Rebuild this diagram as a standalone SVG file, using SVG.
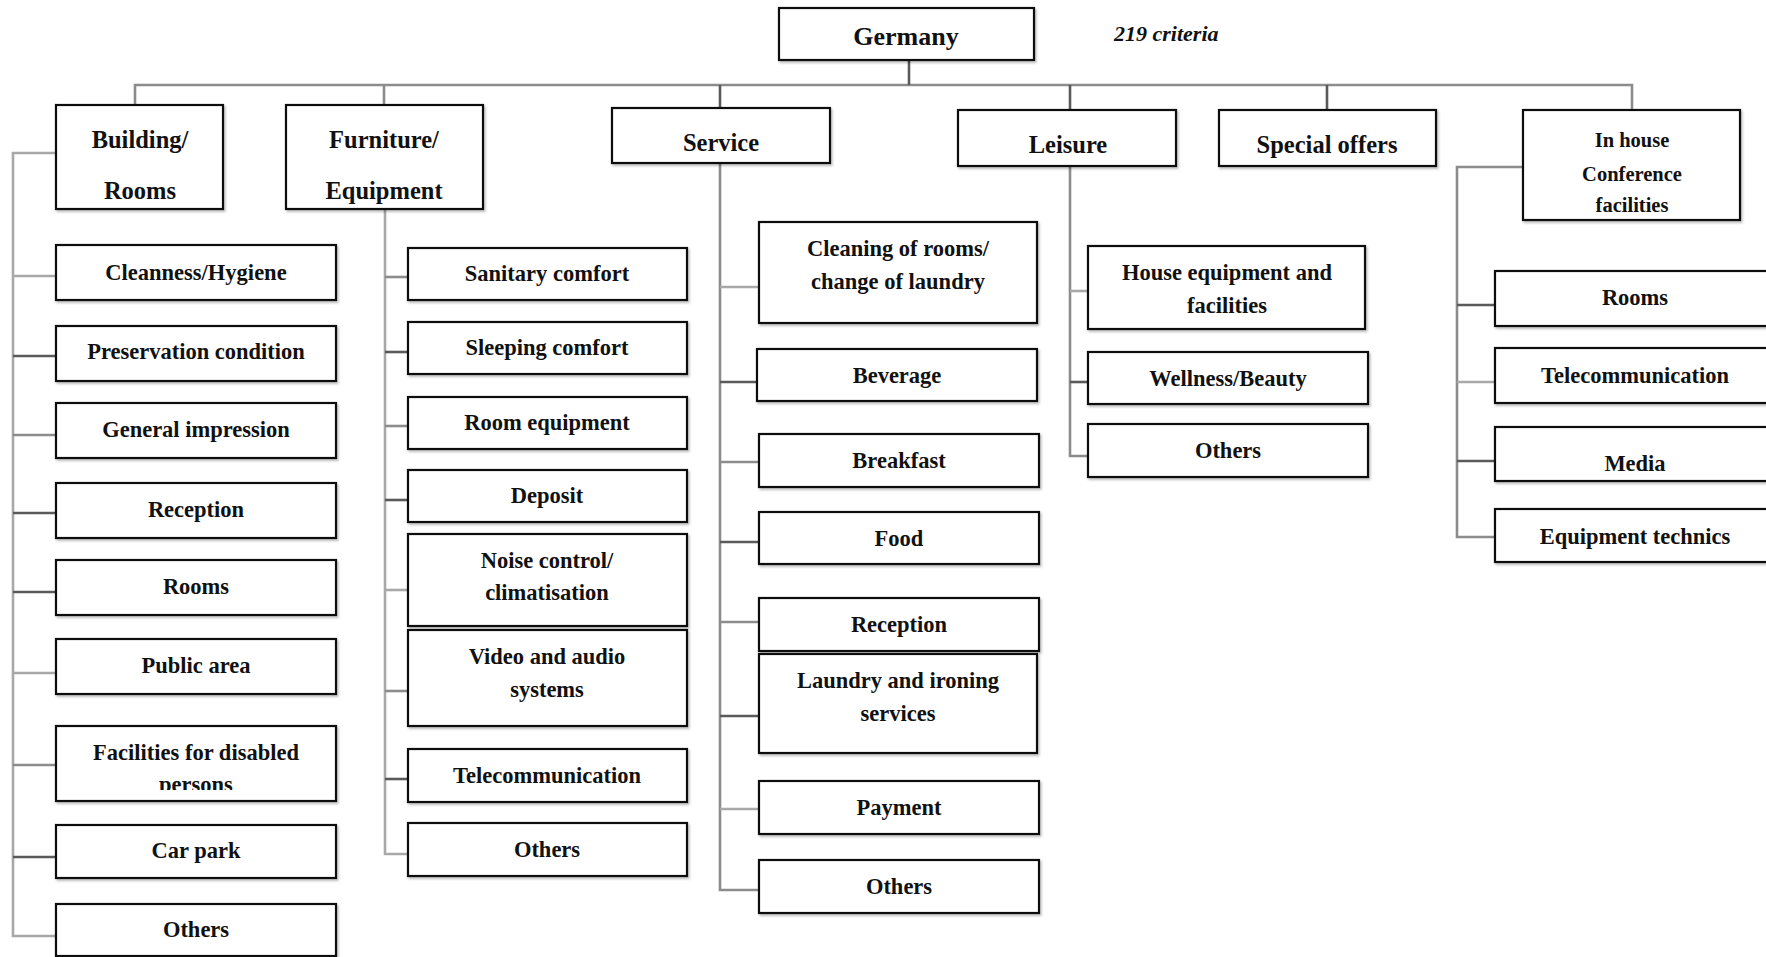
<svg xmlns="http://www.w3.org/2000/svg" width="1766" height="957" viewBox="0 0 1766 957">
  <style>
    .box { fill: #ffffff; stroke: #111111; stroke-width: 2.2; filter: url(#soft); }
    .t { font-family: "Liberation Serif", "Times New Roman", serif; font-weight: bold; fill: #111111; text-anchor: middle; }
    .l1 { font-size: 24.5px; }
    .l2 { font-size: 22.5px; }
    .sm { font-size: 20.5px; }
    .top { font-size: 26px; }
    .note { font-family: "Liberation Serif", "Times New Roman", serif; font-weight: bold; font-style: italic; font-size: 22px; fill: #111111; }
    .ln { fill: none; stroke: #8c8c8c; stroke-width: 2.6; }
    .dk { fill: none; stroke: #5a5a5a; stroke-width: 2.6; }
    .lt { fill: none; stroke: #a8a8a8; stroke-width: 2.6; }
  </style>
  <defs>
    <filter id="soft" x="-5%" y="-10%" width="115%" height="130%">
      <feDropShadow dx="1.5" dy="2" stdDeviation="1" flood-color="#000000" flood-opacity="0.25"/>
    </filter>
    <clipPath id="clipDisabled">
      <rect x="58" y="728" width="276" height="62"/>
    </clipPath>
  </defs>
  <rect width="1766" height="957" fill="#ffffff"/>

  <!-- connectors -->
  <g id="connectors">
    <!-- top bus and stubs -->
    <path class="ln" d="M135,105 V85 H1632 V110"/>
    <path class="dk" d="M909,60 V85"/>
    <path class="ln" d="M384,85 V105"/>
    <path class="dk" d="M720,85 V108"/>
    <path class="dk" d="M1070,85 V110"/>
    <path class="dk" d="M1327,85 V110"/>

    <!-- Building / Rooms branch -->
    <path class="lt" d="M56,153 H13 V936 H56"/>
    <path class="lt" d="M13,276 H56"/>
    <path class="dk" d="M13,356 H56"/>
    <path class="ln" d="M13,435 H56"/>
    <path class="dk" d="M13,513 H56"/>
    <path class="dk" d="M13,592 H56"/>
    <path class="lt" d="M13,673 H56"/>
    <path class="ln" d="M13,765 H56"/>
    <path class="dk" d="M13,857 H56"/>

    <!-- Furniture / Equipment branch -->
    <path class="lt" d="M385,209 V854 H408"/>
    <path class="ln" d="M385,277 H408"/>
    <path class="dk" d="M385,352 H408"/>
    <path class="ln" d="M385,426 H408"/>
    <path class="dk" d="M385,500 H408"/>
    <path class="lt" d="M385,590 H408"/>
    <path class="ln" d="M385,691 H408"/>
    <path class="dk" d="M385,779 H408"/>

    <!-- Service branch -->
    <path class="ln" d="M720,163 V890 H759"/>
    <path class="lt" d="M720,287 H759"/>
    <path class="dk" d="M720,382 H759"/>
    <path class="ln" d="M720,462 H759"/>
    <path class="dk" d="M720,542 H759"/>
    <path class="ln" d="M720,622 H759"/>
    <path class="dk" d="M720,716 H759"/>
    <path class="lt" d="M720,809 H759"/>

    <!-- Leisure branch -->
    <path class="ln" d="M1070,166 V456 H1088"/>
    <path class="lt" d="M1070,291 H1088"/>
    <path class="dk" d="M1070,382 H1088"/>

    <!-- In house conference branch -->
    <path class="ln" d="M1523,167 H1457 V537 H1495"/>
    <path class="dk" d="M1457,305 H1495"/>
    <path class="lt" d="M1457,382 H1495"/>
    <path class="dk" d="M1457,461 H1495"/>
  </g>

  <!-- root -->
  <g id="germany">
    <rect class="box" x="779" y="8" width="255" height="52"/>
    <text class="t top" x="906" y="45">Germany</text>
  </g>
  <text id="criteria" class="note" x="1114" y="41">219 criteria</text>

  <!-- first level -->
  <g id="building-rooms">
    <rect class="box" x="56" y="105" width="167" height="104"/>
    <text class="t l1" x="140" y="148">Building/</text>
    <text class="t l1" x="140" y="199">Rooms</text>
  </g>
  <g id="furniture-equipment">
    <rect class="box" x="286" y="105" width="197" height="104"/>
    <text class="t l1" x="384" y="148">Furniture/</text>
    <text class="t l1" x="384" y="199">Equipment</text>
  </g>
  <g id="service">
    <rect class="box" x="612" y="108" width="218" height="55"/>
    <text class="t l1" x="721" y="151">Service</text>
  </g>
  <g id="leisure">
    <rect class="box" x="958" y="110" width="218" height="56"/>
    <text class="t l1" x="1068" y="153">Leisure</text>
  </g>
  <g id="special-offers">
    <rect class="box" x="1219" y="110" width="217" height="56"/>
    <text class="t l1" x="1327" y="153">Special offers</text>
  </g>
  <g id="in-house-conference">
    <rect class="box" x="1523" y="110" width="217" height="110"/>
    <text class="t sm" x="1632" y="147">In house</text>
    <text class="t sm" x="1632" y="181">Conference</text>
    <text class="t sm" x="1632" y="212">facilities</text>
  </g>

  <!-- Building / Rooms criteria -->
  <g id="b-cleanness">
    <rect class="box" x="56" y="245" width="280" height="55"/>
    <text class="t l2" x="196" y="280">Cleanness/Hygiene</text>
  </g>
  <g id="b-preservation">
    <rect class="box" x="56" y="326" width="280" height="55"/>
    <text class="t l2" x="196" y="359">Preservation condition</text>
  </g>
  <g id="b-general">
    <rect class="box" x="56" y="403" width="280" height="55"/>
    <text class="t l2" x="196" y="437">General impression</text>
  </g>
  <g id="b-reception">
    <rect class="box" x="56" y="483" width="280" height="55"/>
    <text class="t l2" x="196" y="517">Reception</text>
  </g>
  <g id="b-rooms">
    <rect class="box" x="56" y="560" width="280" height="55"/>
    <text class="t l2" x="196" y="594">Rooms</text>
  </g>
  <g id="b-public">
    <rect class="box" x="56" y="639" width="280" height="55"/>
    <text class="t l2" x="196" y="673">Public area</text>
  </g>
  <g id="b-disabled">
    <rect class="box" x="56" y="726" width="280" height="75"/>
    <g clip-path="url(#clipDisabled)">
      <text class="t l2" x="196" y="760">Facilities for disabled</text>
      <text class="t l2" x="196" y="792">persons</text>
    </g>
  </g>
  <g id="b-carpark">
    <rect class="box" x="56" y="825" width="280" height="53"/>
    <text class="t l2" x="196" y="858">Car park</text>
  </g>
  <g id="b-others">
    <rect class="box" x="56" y="904" width="280" height="52"/>
    <text class="t l2" x="196" y="937">Others</text>
  </g>

  <!-- Furniture / Equipment criteria -->
  <g id="f-sanitary">
    <rect class="box" x="408" y="248" width="279" height="52"/>
    <text class="t l2" x="547" y="281">Sanitary comfort</text>
  </g>
  <g id="f-sleeping">
    <rect class="box" x="408" y="322" width="279" height="52"/>
    <text class="t l2" x="547" y="355">Sleeping comfort</text>
  </g>
  <g id="f-room-equipment">
    <rect class="box" x="408" y="397" width="279" height="52"/>
    <text class="t l2" x="547" y="430">Room equipment</text>
  </g>
  <g id="f-deposit">
    <rect class="box" x="408" y="470" width="279" height="52"/>
    <text class="t l2" x="547" y="503">Deposit</text>
  </g>
  <g id="f-noise">
    <rect class="box" x="408" y="534" width="279" height="92"/>
    <text class="t l2" x="547" y="568">Noise control/</text>
    <text class="t l2" x="547" y="600">climatisation</text>
  </g>
  <g id="f-video">
    <rect class="box" x="408" y="630" width="279" height="96"/>
    <text class="t l2" x="547" y="664">Video and audio</text>
    <text class="t l2" x="547" y="697">systems</text>
  </g>
  <g id="f-telecom">
    <rect class="box" x="408" y="749" width="279" height="53"/>
    <text class="t l2" x="547" y="783">Telecommunication</text>
  </g>
  <g id="f-others">
    <rect class="box" x="408" y="823" width="279" height="53"/>
    <text class="t l2" x="547" y="857">Others</text>
  </g>

  <!-- Service criteria -->
  <g id="s-cleaning">
    <rect class="box" x="759" y="222" width="278" height="101"/>
    <text class="t l2" x="898" y="256">Cleaning of rooms/</text>
    <text class="t l2" x="898" y="289">change of laundry</text>
  </g>
  <g id="s-beverage">
    <rect class="box" x="757" y="349" width="280" height="52"/>
    <text class="t l2" x="897" y="383">Beverage</text>
  </g>
  <g id="s-breakfast">
    <rect class="box" x="759" y="434" width="280" height="53"/>
    <text class="t l2" x="899" y="468">Breakfast</text>
  </g>
  <g id="s-food">
    <rect class="box" x="759" y="512" width="280" height="52"/>
    <text class="t l2" x="899" y="546">Food</text>
  </g>
  <g id="s-reception">
    <rect class="box" x="759" y="598" width="280" height="53"/>
    <text class="t l2" x="899" y="632">Reception</text>
  </g>
  <g id="s-laundry">
    <rect class="box" x="759" y="654" width="278" height="99"/>
    <text class="t l2" x="898" y="688">Laundry and ironing</text>
    <text class="t l2" x="898" y="721">services</text>
  </g>
  <g id="s-payment">
    <rect class="box" x="759" y="781" width="280" height="53"/>
    <text class="t l2" x="899" y="815">Payment</text>
  </g>
  <g id="s-others">
    <rect class="box" x="759" y="860" width="280" height="53"/>
    <text class="t l2" x="899" y="894">Others</text>
  </g>

  <!-- Leisure criteria -->
  <g id="l-house-equipment">
    <rect class="box" x="1088" y="246" width="277" height="83"/>
    <text class="t l2" x="1227" y="280">House equipment and</text>
    <text class="t l2" x="1227" y="313">facilities</text>
  </g>
  <g id="l-wellness">
    <rect class="box" x="1088" y="352" width="280" height="52"/>
    <text class="t l2" x="1228" y="386">Wellness/Beauty</text>
  </g>
  <g id="l-others">
    <rect class="box" x="1088" y="424" width="280" height="53"/>
    <text class="t l2" x="1228" y="458">Others</text>
  </g>

  <!-- In house conference criteria -->
  <g id="c-rooms">
    <rect class="box" x="1495" y="271" width="280" height="55"/>
    <text class="t l2" x="1635" y="305">Rooms</text>
  </g>
  <g id="c-telecom">
    <rect class="box" x="1495" y="348" width="280" height="55"/>
    <text class="t l2" x="1635" y="383">Telecommunication</text>
  </g>
  <g id="c-media">
    <rect class="box" x="1495" y="427" width="280" height="54"/>
    <text class="t l2" x="1635" y="471">Media</text>
  </g>
  <g id="c-equipment">
    <rect class="box" x="1495" y="509" width="280" height="53"/>
    <text class="t l2" x="1635" y="544">Equipment technics</text>
  </g>
</svg>
